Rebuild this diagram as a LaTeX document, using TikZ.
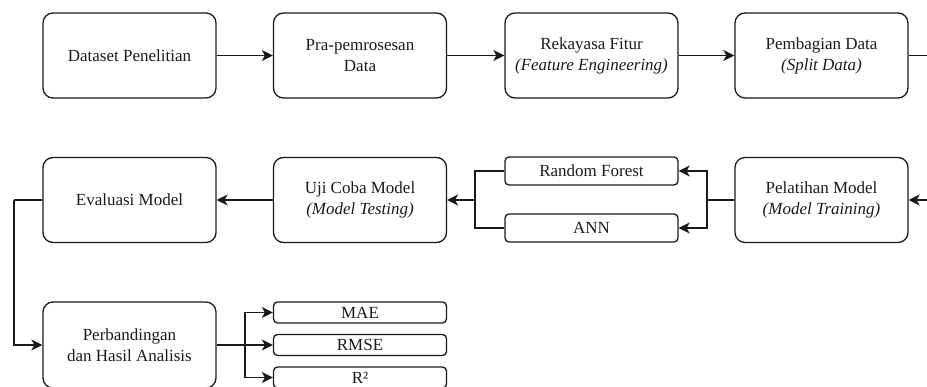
\documentclass[tikz,border=0pt]{standalone}
\usepackage{fontspec}
\setmainfont{Liberation Serif}
\usetikzlibrary{arrows.meta}
\definecolor{ink}{HTML}{1A1A1A}
\tikzset{
  bigbox/.style={draw=ink, text=ink, line width=1.3pt, rounded corners=10pt, minimum width=173pt, minimum height=85pt, align=center, inner sep=2pt, font=\fontsize{17}{21}\selectfont},
  smallbox/.style={draw=ink, text=ink, line width=1.3pt, rounded corners=4pt, minimum width=173pt, minimum height=28pt, inner sep=1pt, font=\fontsize{17}{21}\selectfont},
  metbox/.style={smallbox, minimum height=21pt},
  conn/.style={draw=ink, line width=1.3pt},
  arr/.style={conn, -{Stealth[length=11pt,width=11pt,inset=3pt]}},
}
\begin{document}
\begin{tikzpicture}[x=1pt,y=-1pt]
\useasboundingbox (0,0) rectangle (927,387);
% row 1
\node[bigbox] (ds) at (129.5,55.5) {Dataset Penelitian};
\node[bigbox] (pre) at (360,55.5) {Pra-pemrosesan\\Data};
\node[bigbox] (fe) at (591.5,55.5) {Rekayasa Fitur\\\textit{(Feature Engineering)}};
\node[bigbox] (sp) at (821.5,55.5) {Pembagian Data\\\textit{(Split Data)}};
\coordinate (out1) at (927,55.5);
% row 2
\node[bigbox] (ev) at (129.5,200) {Evaluasi Model};
\node[bigbox] (uji) at (360,200) {Uji Coba Model\\\textit{(Model Testing)}};
\node[smallbox] (rf) at (591.5,171) {Random Forest};
\node[smallbox] (ann) at (591.5,228) {ANN};
\node[bigbox] (pel) at (821.5,200) {Pelatihan Model\\\textit{(Model Training)}};
\coordinate (in2) at (927,200);
\coordinate (j1) at (707,200);
\coordinate (j2) at (475,200);
% row 3
\node[bigbox, minimum height=86pt] (pb) at (129.5,345) {Perbandingan\\dan Hasil Analisis};
\node[metbox] (mae) at (360,312.5) {MAE};
\node[metbox] (rmse) at (360,345) {RMSE};
\node[metbox] (r2) at (360,377.5) {R²};
\coordinate (j3) at (245,345);
\coordinate (j4) at (14,200);
% connectors
\draw[arr] (ds) -- (pre);
\draw[arr] (pre) -- (fe);
\draw[arr] (fe) -- (sp);
\draw[conn] (sp) -- (out1);
\draw[arr] (in2) -- (pel);
\draw[conn] (pel) -- (j1);
\draw[arr] (j1) |- (rf.east);
\draw[arr] (j1) |- (ann.east);
\draw[conn] (rf.west) -| (j2);
\draw[conn] (ann.west) -| (j2);
\draw[arr] (j2) -- (uji);
\draw[arr] (uji) -- (ev);
\draw[conn] (ev.west) -- (j4);
\draw[arr] (j4) |- (pb.west);
\draw[arr] (pb.east) -- (rmse.west);
\draw[arr] (j3) |- (mae.west);
\draw[arr] (j3) |- (r2.west);
\end{tikzpicture}
\end{document}
